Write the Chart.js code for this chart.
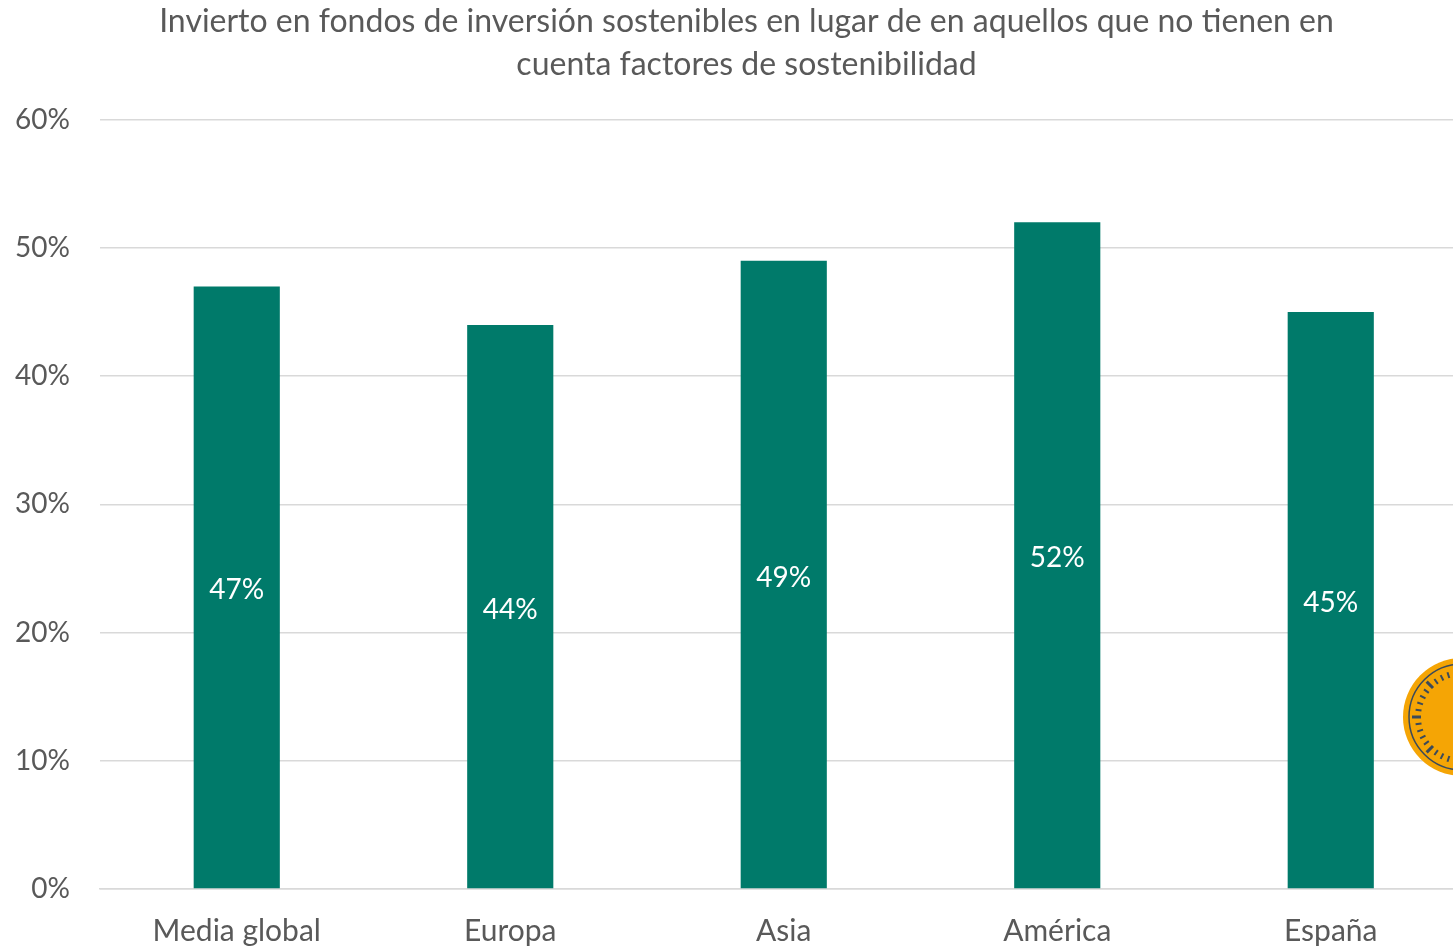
<!DOCTYPE html>
<html>
<head>
<meta charset="utf-8">
<script src="https://cdn.jsdelivr.net/npm/chart.js@4.4.1/dist/chart.umd.min.js"></script>
<style>
  html, body { margin: 0; padding: 0; background: #fff; overflow: hidden; }
  #wrap { width: 1493px; height: 947px; }
</style>
</head>
<body>
<div id="wrap"><canvas id="grafico"></canvas></div>
<script>
// datos del gráfico
const regiones = ["Media global", "Europa", "Asia", "América", "España"];
const porcentajes = [47, 44, 49, 52, 45];
const tituloLineas = [
    "Invierto en fondos de inversión sostenibles en lugar de en aquellos que no tienen en",
    "cuenta factores de sostenibilidad"
];

const verde = "#007A6A";
const gris = "#595959";
const fuente = "Lato, 'Open Sans', sans-serif";

// etiquetas blancas centradas en cada barra
const etiquetasBarras = {
    id: "etiquetasBarras",
    afterDatasetsDraw(chart) {
        const ctx = chart.ctx;
        const meta = chart.getDatasetMeta(0);
        ctx.save();
        ctx.fillStyle = "#ffffff";
        ctx.font = "28px " + fuente;
        ctx.textAlign = "center";
        ctx.textBaseline = "middle";
        meta.data.forEach((bar, i) => {
            const yMedio = (bar.y + bar.base) / 2 + 3;
            ctx.fillText(porcentajes[i] + "%", bar.x, yMedio);
        });
        ctx.restore();
    }
};

// moneda decorativa en el borde derecho
const moneda = {
    id: "moneda",
    afterDraw(chart) {
        const ctx = chart.ctx;
        const cx = 1462, cy = 717, r = 59;
        ctx.save();
        ctx.beginPath();
        ctx.arc(cx, cy, r, 0, Math.PI * 2);
        ctx.fillStyle = "#F5A505";
        ctx.fill();
        ctx.beginPath();
        ctx.arc(cx, cy, r - 6, 0, Math.PI * 2);
        ctx.strokeStyle = "#3b4a5a";
        ctx.lineWidth = 1.5;
        ctx.stroke();
        for (let k = 0; k < 40; k++) {
            const a = k * Math.PI * 2 / 40;
            const r1 = r - 18, r2 = (k % 5 === 0) ? r - 9 : r - 12;
            ctx.beginPath();
            ctx.moveTo(cx + Math.cos(a) * r1, cy + Math.sin(a) * r1);
            ctx.lineTo(cx + Math.cos(a) * r2, cy + Math.sin(a) * r2);
            ctx.lineWidth = k % 5 === 0 ? 3 : 2;
            ctx.stroke();
        }
        ctx.restore();
    }
};

new Chart(document.getElementById("grafico"), {
    type: "bar",
    data: {
        labels: regiones,
        datasets: [{
            data: porcentajes,
            backgroundColor: verde,
            borderWidth: 0,
            barPercentage: 0.63,
            categoryPercentage: 0.5
        }]
    },
    options: {
        responsive: true,
        maintainAspectRatio: false,
        animation: false,
        layout: { padding: 0 },
        plugins: {
            legend: { display: false },
            tooltip: { enabled: false },
            title: {
                display: true,
                text: tituloLineas,
                color: gris,
                font: { family: fuente, size: 32, weight: "normal", lineHeight: 1.34 },
                padding: { top: 0, bottom: 34 }
            }
        },
        scales: {
            x: {
                grid: { display: false, drawTicks: false },
                border: { display: true, color: "#D9D9D9", width: 1.5 },
                ticks: {
                    color: gris,
                    padding: 24,
                    maxRotation: 0,
                    font: { family: fuente, size: 30 }
                },
                afterFit(scale) { scale.height = 58; }
            },
            y: {
                min: 0,
                max: 60,
                grid: { color: "#D9D9D9", lineWidth: 1.5, drawTicks: false },
                border: { display: false },
                ticks: {
                    stepSize: 10,
                    color: gris,
                    padding: 30,
                    font: { family: fuente, size: 28 },
                    callback: v => v + "%"
                },
                afterFit(scale) { scale.width = 100; }
            },
            // eje vacío a la derecha, solo reserva el margen
            yDer: {
                position: "right",
                min: 0,
                max: 60,
                grid: { display: false, drawTicks: false },
                border: { display: false },
                ticks: { display: false },
                afterFit(scale) { scale.width = 25.5; }
            }
        }
    },
    plugins: [etiquetasBarras, moneda]
});
</script>
</body>
</html>
